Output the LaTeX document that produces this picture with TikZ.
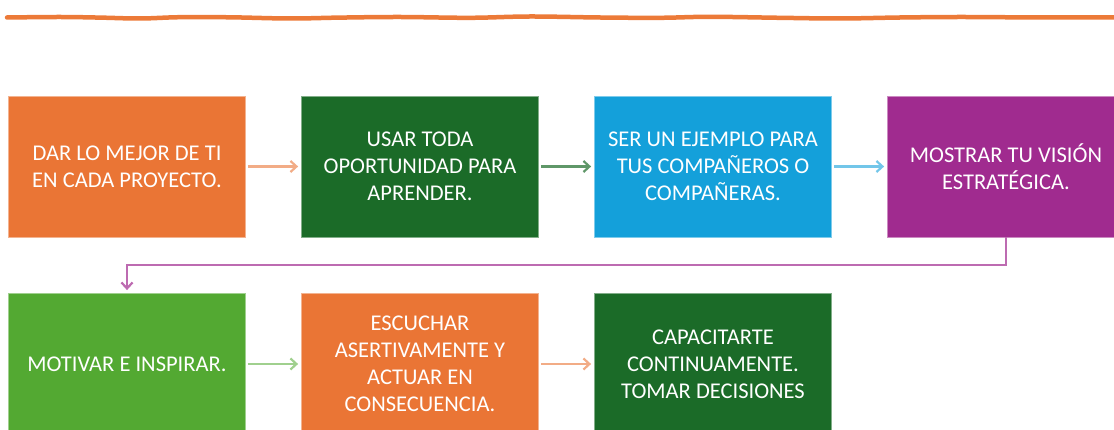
\documentclass[tikz,border=0pt]{standalone}
\usepackage{fontspec}
\setmainfont{Carlito}
\usetikzlibrary{arrows.meta}
\definecolor{corange}{HTML}{EA7535}
\definecolor{cdgreen}{HTML}{1B6B28}
\definecolor{cblue}{HTML}{14A0DA}
\definecolor{cpurple}{HTML}{A02B8F}
\definecolor{clgreen}{HTML}{53A932}
\definecolor{lineorange}{HTML}{EC7A38}
\tikzset{
  box/.style={rectangle, minimum width=237pt, minimum height=141pt, inner sep=0pt,
    align=center, text=white, font=\fontsize{22.5}{27}\selectfont,
    draw=#1!55!white, line width=0.8pt, fill=#1},
  conn/.style={draw=#1, line width=2.2pt, -{Straight Barb[length=6pt,width=11pt,line width=2.2pt]}}
}
\begin{document}
\begin{tikzpicture}[x=1pt,y=-1pt]
\useasboundingbox (0,0) rectangle (1114,430);
% top wavy line
\draw[lineorange, line width=4.5pt, line cap=round] plot[smooth, tension=0.6] coordinates
 {(7,17.5) (60,17) (100,17.6) (140,18.5) (180,17.2) (230,17.3) (290,18.5) (340,17.6) (400,17) (470,17.8) (530,16.5) (600,17.5) (660,17.8) (710,16.8) (780,17.8) (840,18.5) (900,17.5) (960,17) (1030,17.4) (1114,17.5)};
% row 1
\node[box=corange] (b1) at (127,166.5) {DAR LO MEJOR DE TI\\EN CADA PROYECTO.};
\node[box=cdgreen] (b2) at (420,166.5) {USAR TODA\\OPORTUNIDAD PARA\\APRENDER.};
\node[box=cblue] (b3) at (713,166.5) {SER UN EJEMPLO PARA\\TUS COMPAÑEROS O\\COMPAÑERAS.};
\node[box=cpurple] (b4) at (1006,166.5) {MOSTRAR TU VISIÓN\\ESTRATÉGICA.};
% row 2
\node[box=clgreen] (b5) at (127,364) {MOTIVAR E INSPIRAR.};
\node[box=corange] (b6) at (420,364) {ESCUCHAR\\ASERTIVAMENTE Y\\ACTUAR EN\\CONSECUENCIA.};
\node[box=cdgreen] (b7) at (713,364) {CAPACITARTE\\CONTINUAMENTE.\\TOMAR DECISIONES};
% connectors
\draw[conn=corange!60!white, shorten <=2pt, shorten >=3pt] (b1) -- (b2);
\draw[conn=cdgreen!70!white, shorten <=2pt, shorten >=3pt] (b2) -- (b3);
\draw[conn=cblue!60!white, shorten <=2pt, shorten >=3pt] (b3) -- (b4);
\coordinate (t1) at (1006,265);
\coordinate (t2) at (127,265);
\draw[conn=cpurple!70!white, line width=1.8pt, shorten >=3pt] (b4.south) -- (t1) -- (t2) -- (b5.north);
\draw[conn=clgreen!55!white, shorten <=2pt, shorten >=3pt] (b5) -- (b6);
\draw[conn=corange!60!white, shorten <=2pt, shorten >=3pt] (b6) -- (b7);
\end{tikzpicture}
\end{document}
